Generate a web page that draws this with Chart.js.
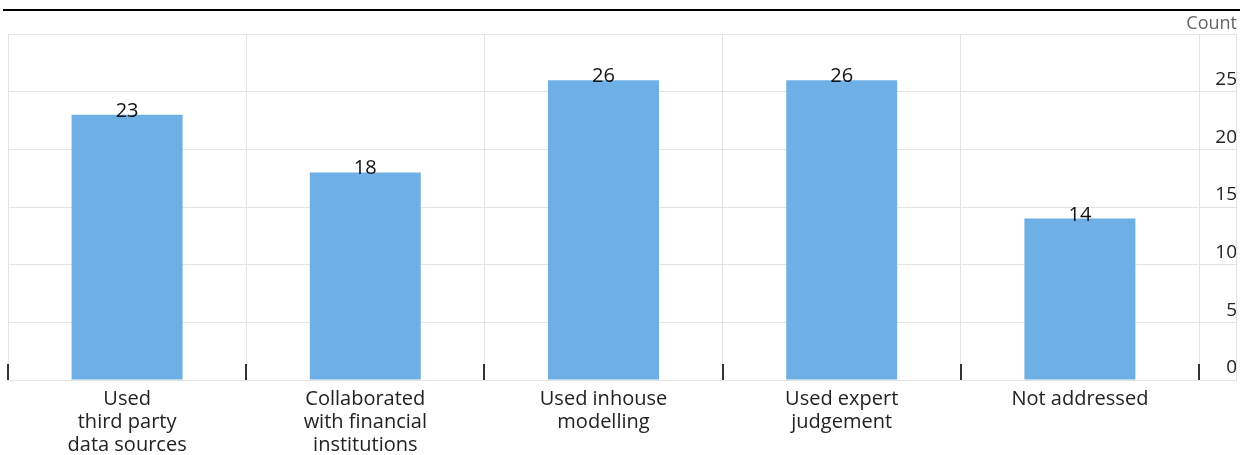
<!DOCTYPE html>
<html>
<head>
<meta charset="utf-8">
<script src="https://cdn.jsdelivr.net/npm/chart.js@4.4.1/dist/chart.umd.min.js"></script>
<style>
  html, body { margin: 0; padding: 0; background: #fff; }
  #wrap { position: relative; width: 1247px; height: 455px; overflow: hidden; }
  #rule { position: absolute; left: 3px; top: 9px; width: 1237px; height: 2px; background: #000; }
  #unit { position: absolute; right: 10px; top: 10px; font: 18px 'Open Sans', sans-serif; color: #666; }
</style>
</head>
<body>
<div id="wrap">
  <div id="rule"></div>
  <div id="unit">Count</div>
  <canvas id="canvas" width="1247" height="455"></canvas>
</div>
<script>
const categories = [
  ['Used', 'third party', 'data sources'],
  ['Collaborated', 'with financial', 'institutions'],
  ['Used inhouse', 'modelling'],
  ['Used expert', 'judgement'],
  ['Not addressed']
];
const counts = [23, 18, 26, 26, 14];
const yTicks = [0, 5, 10, 15, 20, 25];

const gridColor = '#e3e3e3';
const fontFamily = "'Open Sans', sans-serif";
const yFont = { family: fontFamily, size: 19 };
const xFont = { family: fontFamily, size: 20, lineHeight: 1.15 };

// widest y label, used to right-align labels inside the tick area
const mctx = document.createElement('canvas').getContext('2d');
mctx.font = '19px ' + fontFamily;
const widest = Math.max(...yTicks.map(v => mctx.measureText(String(v)).width));

const barLabels = {
  id: 'barLabels',
  afterDatasetsDraw(chart) {
    const ctx = chart.ctx;
    const meta = chart.getDatasetMeta(0);
    ctx.save();
    ctx.font = '20px ' + fontFamily;
    ctx.fillStyle = '#111';
    ctx.textAlign = 'center';
    ctx.textBaseline = 'alphabetic';
    meta.data.forEach((bar, i) => {
      ctx.fillText(String(counts[i]), bar.x, bar.y + 2);
    });
    ctx.restore();
  }
};

const frame = {
  id: 'frame',
  afterDraw(chart) {
    const ctx = chart.ctx;
    const a = chart.chartArea;
    const y = chart.scales.y;
    const x = chart.scales.x;
    ctx.save();
    ctx.strokeStyle = gridColor;
    ctx.lineWidth = 1;
    ctx.strokeRect(a.left + 0.5, a.top + 0.5, y.right - a.left - 1, a.bottom - a.top);
    // dark category separators rising from the baseline
    ctx.strokeStyle = '#333';
    ctx.lineWidth = 2;
    for (let i = 0; i <= categories.length; i++) {
      const px = Math.round(x.getPixelForValue(i - 0.5));
      ctx.beginPath();
      ctx.moveTo(px, a.bottom - 16);
      ctx.lineTo(px, a.bottom);
      ctx.stroke();
    }
    ctx.restore();
  }
};

new Chart(document.getElementById('canvas'), {
  type: 'bar',
  data: {
    labels: categories,
    datasets: [{
      data: counts,
      backgroundColor: '#6eb0e6',
      borderWidth: 0,
      categoryPercentage: 1,
      barPercentage: 0.466
    }]
  },
  options: {
    responsive: false,
    animation: false,
    devicePixelRatio: 1,
    layout: { padding: { left: 8, top: 34, right: 10, bottom: 0 } },
    plugins: { legend: { display: false }, tooltip: { enabled: false } },
    scales: {
      x: {
        afterFit(scale) { scale.height = 75; },
        grid: { offset: true, color: gridColor, drawTicks: false },
        border: { color: gridColor },
        ticks: {
          font: xFont,
          color: '#222',
          padding: 8,
          maxRotation: 0,
          autoSkip: false
        }
      },
      y: {
        position: 'right',
        min: 0,
        max: 30,
        afterFit(scale) { scale.width = 38; },
        grid: { color: gridColor, tickColor: gridColor, tickLength: 38 },
        border: { display: false },
        ticks: {
          stepSize: 5,
          font: yFont,
          color: '#222',
          crossAlign: 'far',
          padding: -6 - widest,
          labelOffset: -12,
          callback: v => (yTicks.includes(v) ? String(v) : '')
        }
      }
    }
  },
  plugins: [barLabels, frame]
});
</script>
</body>
</html>
